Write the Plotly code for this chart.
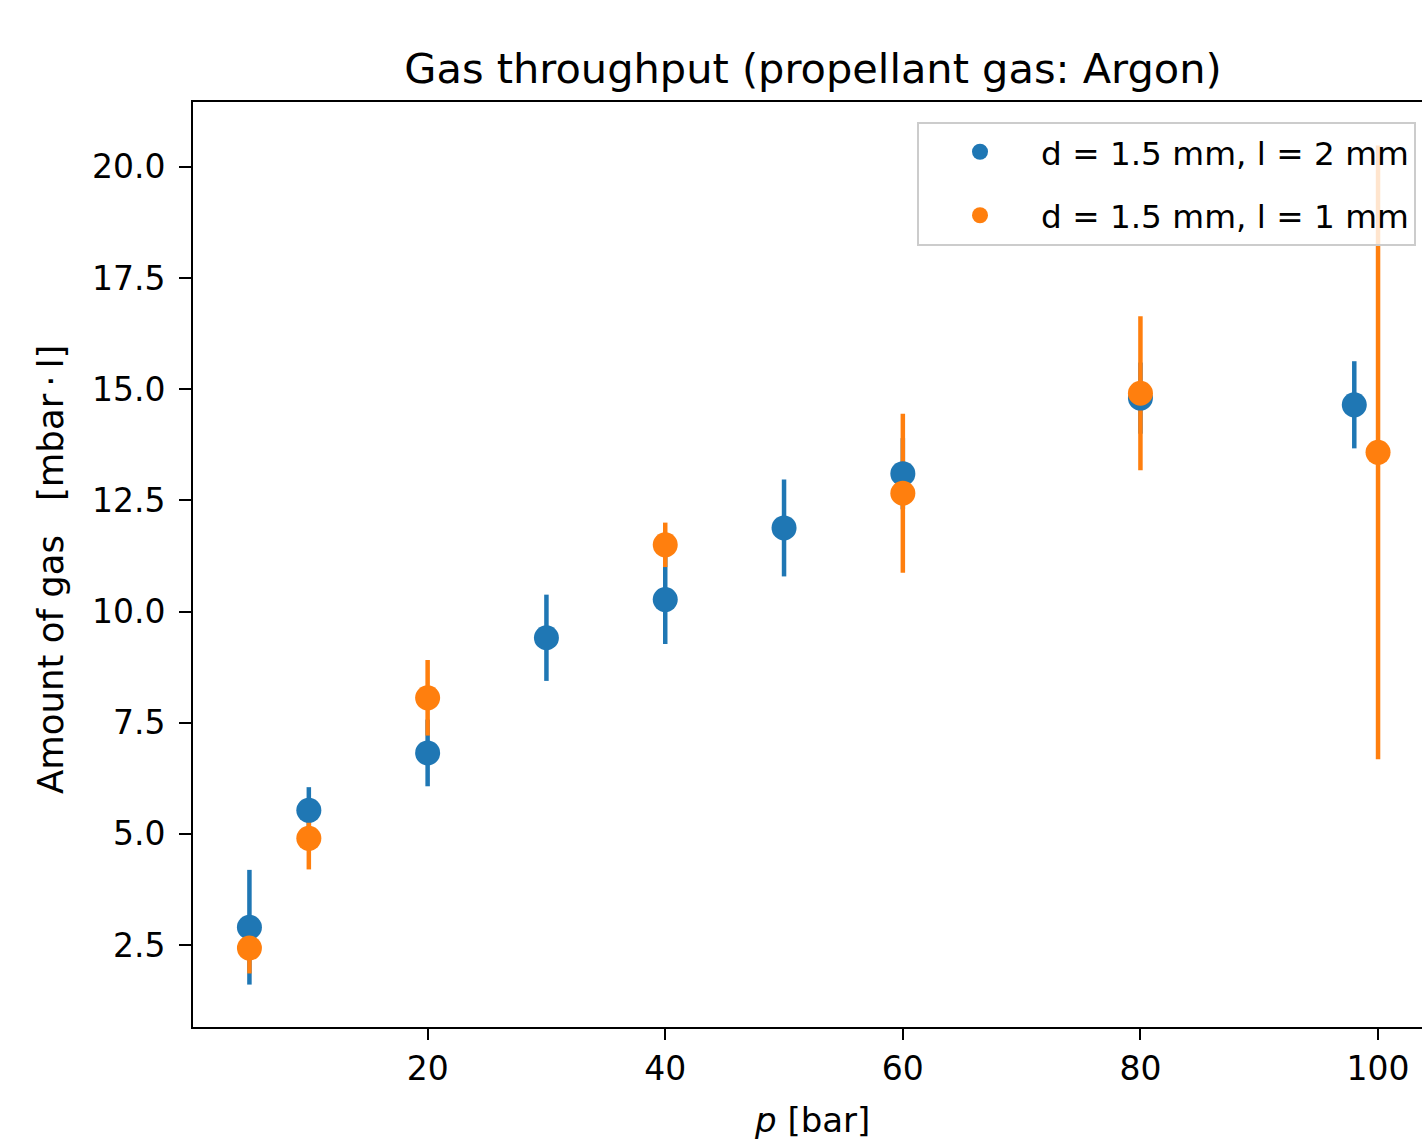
import plotly.graph_objects as go

# Data
p_l2 = [5, 10, 20, 30, 40, 50, 60, 80, 98]
gas_l2 = [2.9, 5.53, 6.82, 9.41, 10.27, 11.88, 13.1, 14.8, 14.65]
err_l2 = [1.29, 0.52, 0.75, 0.97, 1.0, 1.09, 0.8, 0.8, 0.98]

p_l1 = [5, 10, 20, 40, 60, 80, 100]
gas_l1 = [2.43, 4.9, 8.06, 11.5, 12.66, 14.91, 13.58]
err_l1 = [0.57, 0.7, 0.85, 0.5, 1.79, 1.73, 6.9]

names = ["d = 1.5 mm, l = 2 mm", "d = 1.5 mm, l = 1 mm"]
colors = ["#1f77b4", "#ff7f0e"]

xticks = [20, 40, 60, 80, 100]
yticks = [2.5, 5.0, 7.5, 10.0, 12.5, 15.0, 17.5, 20.0]

series = [(p_l2, gas_l2, err_l2), (p_l1, gas_l1, err_l1)]

fig = go.Figure()

# error bars first (behind all markers, as in matplotlib)
for (x, y, e), c in zip(series, colors):
    fig.add_trace(go.Scatter(
        x=x, y=y, mode="markers",
        marker=dict(size=1, color="rgba(0,0,0,0)"),
        error_y=dict(type="data", array=e, visible=True, color=c, thickness=4.5, width=0),
        showlegend=False, hoverinfo="skip"))

for i, ((x, y, e), c, n) in enumerate(zip(series, colors, names)):
    fig.add_trace(go.Scatter(
        x=x, y=y, mode="markers", name=n, legendgroup=f"g{i}",
        marker=dict(size=25, color=c)))

axis_font = dict(family="DejaVu Sans", size=33, color="#000000")

fig.update_layout(
    width=1422, height=1139,
    margin=dict(l=193, r=0, t=102, b=112),
    paper_bgcolor="white", plot_bgcolor="white",
    font=dict(family="DejaVu Sans", size=32, color="#000000"),
    title=dict(text="Gas throughput (propellant gas: Argon)",
               x=813 / 1422, xanchor="center", xref="container",
               y=1 - 68 / 1139, yanchor="middle", yref="container",
               font=dict(family="DejaVu Sans", size=41.5, color="#000000")),
    xaxis=dict(range=[0.25, 103.70], tickvals=xticks, ticktext=[str(t) for t in xticks],
               showgrid=False, zeroline=False, showline=True, linecolor="black", linewidth=2,
               mirror=True, ticks="outside", ticklen=11, tickwidth=2, tickcolor="black",
               tickfont=axis_font, ticklabelstandoff=0),
    yaxis=dict(range=[0.656, 21.46], tickvals=yticks, ticktext=[f"{t:.1f}" for t in yticks],
               showgrid=False, zeroline=False, showline=True, linecolor="black", linewidth=2,
               mirror=False, ticks="outside", ticklen=12, tickwidth=2, tickcolor="black",
               tickfont=axis_font, ticklabelstandoff=7),
    legend=dict(x=(1416 - 193) / 1229, xanchor="right", y=(1027 - 122) / 925, yanchor="top",
                bgcolor="rgba(255,255,255,0.8)", bordercolor="#cccccc", borderwidth=2,
                font=dict(family="DejaVu Sans", size=32.7, color="#000000"),
                traceorder="grouped", tracegroupgap=18, itemwidth=112),
    annotations=[
        dict(text="<i>p</i> [bar]", xref="paper", yref="paper",
             x=(812 - 193) / 1229, y=(1027 - 1120) / 925, xanchor="center", yanchor="middle",
             showarrow=False, font=dict(family="DejaVu Sans", size=34, color="#000000")),
        dict(text="Amount of gas\u00a0\u00a0\u00a0[mbar\u2009·\u2009l]", xref="paper", yref="paper",
             x=(50 - 193) / 1229, y=(1027 - 570) / 925, xanchor="center", yanchor="middle",
             textangle=-90, showarrow=False,
             font=dict(family="DejaVu Sans", size=35.5, color="#000000")),
    ],
)

fig.write_html("out.html", config={"displayModeBar": False},
               post_script="document.body.style.margin='0';document.body.style.overflow='hidden';")
